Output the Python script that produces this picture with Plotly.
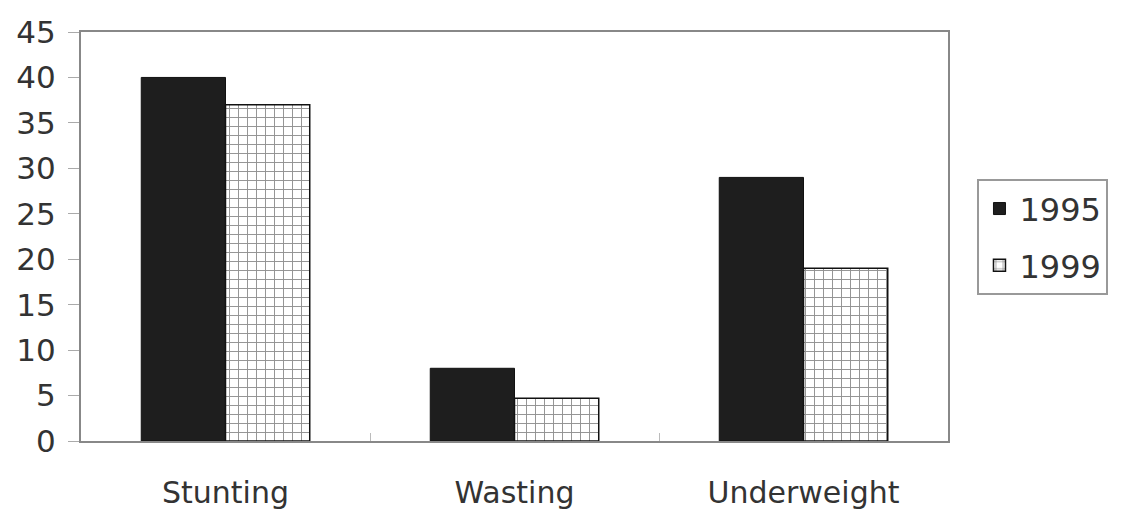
import plotly.graph_objects as go

categories = ["Stunting", "Wasting", "Underweight"]
values_1995 = [40, 8, 29]
values_1999 = [37, 4.7, 19]
y_ticks = [0, 5, 10, 15, 20, 25, 30, 35, 40, 45]

fig = go.Figure()
fig.add_trace(go.Bar(
    x=categories, y=values_1995, name="1995", legendgroup="a",
    marker=dict(color="#1e1e1e", line=dict(color="#111", width=1)),
))
fig.add_trace(go.Bar(
    x=categories, y=values_1999, name="1999", legendgroup="b",
    marker=dict(color="white", line=dict(color="#111", width=1.5),
                pattern=dict(shape="+", size=9, solidity=0.2,
                             fgcolor="#222", bgcolor="white")),
))

fig.update_layout(
    width=1125, height=509,
    margin=dict(l=73, r=185, t=24, b=76),
    paper_bgcolor="white", plot_bgcolor="white",
    barmode="group", bargap=0.417, bargroupgap=0,
    font=dict(family="DejaVu Sans, sans-serif", color="#333"),
    showlegend=True,
    legend=dict(x=1.034, y=0.64, xanchor="left", yanchor="top",
                bordercolor="#999", borderwidth=2,
                font=dict(size=32, color="#333"),
                traceorder="grouped", tracegroupgap=12,
                itemwidth=30),
    xaxis=dict(showline=True, linecolor="#888", linewidth=2, mirror=True,
               ticks="inside", tickson="boundaries", ticklen=8, tickcolor="#bbb",
               tickfont=dict(size=30, color="#333"), showgrid=False,
               ticklabelstandoff=24, automargin=False),
    yaxis=dict(range=[0, 45], tickvals=y_ticks, showline=True, linecolor="#888",
               linewidth=2, mirror=True, ticks="outside", ticklen=11,
               tickcolor="#aaa", tickfont=dict(size=31, color="#333"),
               showgrid=False, zeroline=False, ticklabelstandoff=6,
               automargin=False),
)
fig.write_html("out.html")
